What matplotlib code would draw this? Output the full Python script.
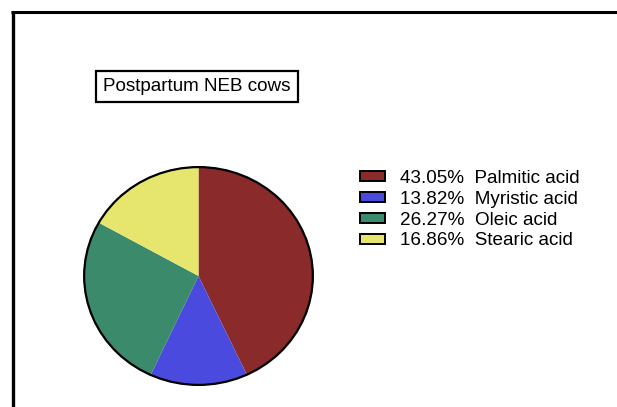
import matplotlib
matplotlib.use("Agg")
import matplotlib.pyplot as plt
from matplotlib.patches import Patch, Circle
from matplotlib.lines import Line2D

plt.rcParams['font.family'] = ['Liberation Sans', 'DejaVu Sans']

acids = ["Palmitic acid", "Myristic acid", "Oleic acid", "Stearic acid"]
percents = [43.05, 13.82, 26.27, 16.86]
colors = ["#8a2a2a", "#4a4ade", "#3c8a6c", "#e6e66e"]
title = "Postpartum NEB cows"

W, H = 617, 407
fig = plt.figure(figsize=(W / 100, H / 100), dpi=100)

# pie axes (pixel box: x 83-314, y 166-386 from top)
ax = fig.add_axes([83 / W, 1 - 386 / H, 231 / W, 220 / H])
ax.pie(percents, colors=colors, startangle=90, counterclock=False,
       wedgeprops=dict(linewidth=0))
ax.set_aspect('auto')
ax.set_xlim(-1.01, 1.01)
ax.set_ylim(-1.01, 1.01)
ax.add_patch(Circle((0, 0), 1, fill=False, edgecolor='black', linewidth=1.6))
ax.axis('off')

# legend
handles = [Patch(facecolor=c, edgecolor='black', linewidth=1.4) for c in colors]
labels = [f"{p:.2f}%  {a}" for p, a in zip(percents, acids)]
fs = 13.6
fig.legend(handles, labels, loc='upper left',
           bbox_to_anchor=(360 / W, 1 - 170 / H), frameon=False,
           fontsize=fs, borderpad=0, borderaxespad=0,
           handlelength=1.3, handleheight=0.45,
           handletextpad=0.82, labelspacing=0.2)

# title box
fig.text(197 / W, 1 - 86.5 / H, title, ha='center', va='center', fontsize=13.6,
         bbox=dict(boxstyle='square,pad=0.36', facecolor='white',
                   edgecolor='black', linewidth=1.6))

# frame lines (top and left)
fig.add_artist(Line2D([11 / W, 1], [1 - 12 / H, 1 - 12 / H],
                      transform=fig.transFigure, color='black', linewidth=2.2,
                      solid_capstyle='butt'))
fig.add_artist(Line2D([12.5 / W, 12.5 / W], [0, 1 - 11 / H],
                      transform=fig.transFigure, color='black', linewidth=2.4,
                      solid_capstyle='butt'))

fig.savefig("out.png", dpi=100)
